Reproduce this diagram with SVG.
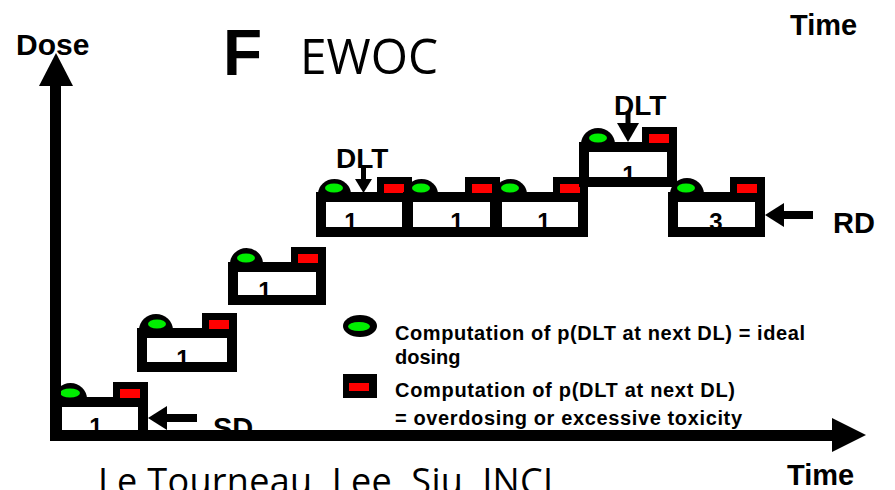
<svg xmlns="http://www.w3.org/2000/svg" width="895" height="490" viewBox="0 0 895 490">
<style>
.box{fill:#fff;stroke:#000;stroke-width:10}
.blk{fill:#000}
.grn{fill:#00ee00}
.red{fill:#ff0000}
.num{font-family:"Liberation Sans",Arial,sans-serif;font-weight:bold;font-size:24px;fill:#000;text-anchor:middle}
.lbl{font-family:"Liberation Sans",Arial,sans-serif;font-weight:bold;fill:#000}
.leg{font-family:"Liberation Sans",Arial,sans-serif;font-weight:bold;font-size:20px;fill:#000}
.thin{font-family:"Open Sans","Noto Sans",sans-serif;fill:#000}
.ax{stroke:#000;stroke-width:11;fill:none}
.sh{stroke:#000;stroke-width:8;fill:none}
.dl{stroke:#000;stroke-width:5;fill:none}
</style>
<rect width="895" height="490" fill="#fff"/>

<g id="title">
<text class="lbl" x="223" y="75" font-size="64">F</text>
<text class="thin" x="300" y="74" font-size="50" textLength="138" lengthAdjust="spacingAndGlyphs">EWOC</text>
</g>
<g id="axis-labels">
<text class="lbl" x="16" y="55" font-size="30">Dose</text>
<text class="lbl" x="790" y="35" font-size="29">Time</text>
<text class="lbl" x="787" y="485" font-size="29">Time</text>
</g>
<text id="citation" class="thin" x="98" y="494" font-size="36" textLength="455" lengthAdjust="spacing">Le Tourneau, Lee, Siu, JNCI</text>

<g id="labels">
<text class="lbl" x="213" y="438" font-size="29">SD</text>
<text class="lbl" x="833" y="233" font-size="29">RD</text>
<text class="lbl" x="336" y="168" font-size="28">DLT</text>
<text class="lbl" x="614" y="115" font-size="28">DLT</text>
</g>

<g id="box1">
<rect class="box" x="57" y="402" width="86" height="34"/>
<path class="blk" d="M54 399 A16.5 16 0 0 1 87 399 Z"/>
<ellipse class="grn" cx="70" cy="393" rx="10" ry="4.5"/>
<rect class="blk" x="113" y="382" width="35" height="16"/>
<rect class="red" x="120" y="389" width="20" height="9"/>
<text class="num" x="96" y="435">1</text>
</g>
<g id="box2">
<rect class="box" x="142" y="333" width="90" height="34"/>
<path class="blk" d="M139 330 A17 16 0 0 1 173 330 Z"/>
<ellipse class="grn" cx="157" cy="324" rx="9" ry="4.5"/>
<rect class="blk" x="202" y="313" width="35" height="16"/>
<rect class="red" x="209" y="320" width="20" height="9"/>
<text class="num" x="183" y="367">1</text>
</g>
<g id="box3">
<rect class="box" x="233" y="267" width="88" height="33"/>
<path class="blk" d="M230 264 A16.5 16 0 0 1 263 264 Z"/>
<ellipse class="grn" cx="246" cy="258" rx="9" ry="4.5"/>
<rect class="blk" x="291" y="247" width="35" height="16"/>
<rect class="red" x="298" y="254" width="20" height="9"/>
<text class="num" x="265" y="299">1</text>
</g>
<g id="box4">
<rect class="box" x="321" y="197" width="86" height="35"/>
<path class="blk" d="M318 194 A16.5 15 0 0 1 351 194 Z"/>
<ellipse class="grn" cx="334" cy="188" rx="9" ry="4.5"/>
<rect class="blk" x="377" y="177" width="35" height="16"/>
<rect class="red" x="384" y="184" width="20" height="9"/>
<text class="num" x="351" y="230">1</text>
</g>
<g id="box5">
<rect class="box" x="408" y="197" width="87" height="35"/>
<path class="blk" d="M405 194 A16.5 15 0 0 1 438 194 Z"/>
<ellipse class="grn" cx="421" cy="188" rx="9" ry="4.5"/>
<rect class="blk" x="465" y="177" width="35" height="16"/>
<rect class="red" x="472" y="184" width="20" height="9"/>
<text class="num" x="457" y="230">1</text>
</g>
<g id="box6">
<rect class="box" x="497" y="197" width="86" height="35"/>
<path class="blk" d="M494 194 A16.5 15 0 0 1 527 194 Z"/>
<ellipse class="grn" cx="510" cy="188" rx="9" ry="4.5"/>
<rect class="blk" x="553" y="177" width="35" height="16"/>
<rect class="red" x="560" y="184" width="20" height="9"/>
<text class="num" x="544" y="230">1</text>
</g>
<g id="box7">
<rect class="box" x="584" y="147" width="88" height="35"/>
<path class="blk" d="M581 144 A17 16 0 0 1 615 144 Z"/>
<ellipse class="grn" cx="598" cy="138" rx="9" ry="4.5"/>
<rect class="blk" x="642" y="127" width="35" height="16"/>
<rect class="red" x="649" y="134" width="20" height="9"/>
<text class="num" x="629" y="183">1</text>
</g>
<g id="box8">
<rect class="box" x="673" y="197" width="87" height="35"/>
<path class="blk" d="M670 194 A17 16 0 0 1 704 194 Z"/>
<ellipse class="grn" cx="686" cy="188" rx="9" ry="4.5"/>
<rect class="blk" x="730" y="177" width="35" height="16"/>
<rect class="red" x="737" y="184" width="20" height="9"/>
<text class="num" x="716" y="230">3</text>
</g>

<g id="legend">
<ellipse class="blk" cx="360" cy="326" rx="17" ry="11"/>
<ellipse class="grn" cx="359" cy="326.5" rx="11" ry="4.5"/>
<rect class="blk" x="343" y="374" width="34" height="24"/>
<rect class="red" x="349" y="383" width="20" height="8"/>
<text class="leg" x="395" y="340" textLength="410" lengthAdjust="spacing">Computation of p(DLT at next DL) = ideal</text>
<text class="leg" x="395" y="364">dosing</text>
<text class="leg" x="395" y="397" textLength="340" lengthAdjust="spacing">Computation of p(DLT at next DL)</text>
<text class="leg" x="395" y="425" textLength="347" lengthAdjust="spacing">= overdosing or excessive  toxicity</text>
</g>

<g id="connectors">
<line class="ax" x1="55.5" y1="84" x2="55.5" y2="441"/>
<polygon class="blk" points="39,86 73,86 56,53"/>
<line class="ax" x1="50" y1="435.5" x2="834" y2="435.5"/>
<polygon class="blk" points="832,418 832,452 866,435"/>
<line class="sh" x1="165" y1="418" x2="197" y2="418"/>
<polygon class="blk" points="148,418 167,406 167,430"/>
<line class="sh" x1="782" y1="215" x2="813" y2="215"/>
<polygon class="blk" points="765,215 784,203 784,227"/>
<line class="dl" x1="363.5" y1="167" x2="363.5" y2="181"/>
<polygon class="blk" points="355,179 372,179 363.5,193"/>
<line class="dl" x1="628" y1="112" x2="628" y2="125"/>
<polygon class="blk" points="617,123 639,123 628,142"/>
</g>
</svg>
